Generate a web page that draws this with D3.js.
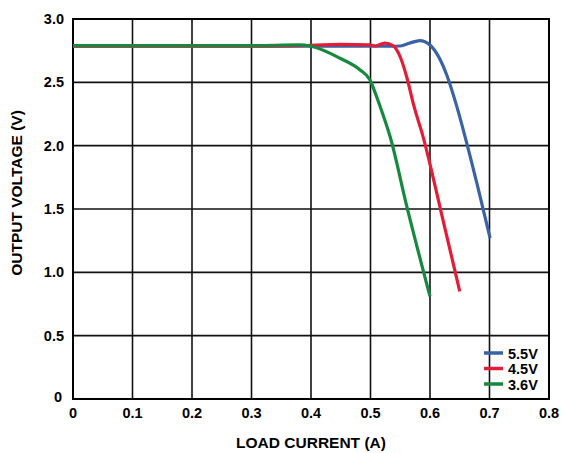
<!DOCTYPE html>
<html><head><meta charset="utf-8">
<script src="https://cdn.jsdelivr.net/npm/d3@7"></script>
<style>body{margin:0;background:#fff;} text{font-family:"Liberation Sans",Arial,sans-serif;font-weight:bold;}</style>
</head><body>
<svg id="c" width="564" height="453"></svg>
<script>
const xTicks = [0,0.1,0.2,0.3,0.4,0.5,0.6,0.7,0.8];
const yTicks = [0,0.5,1.0,1.5,2.0,2.5,3.0];
const seriesNames = ["5.5V","4.5V","3.6V"];
const seriesColors = ["#3a62a6","#e31d37","#17893f"];
const blueI = [0,0.1,0.2,0.3,0.4,0.5,0.53,0.55,0.566,0.583,0.6,0.617,0.628,0.645,0.659,0.68,0.701];
const blueV = [2.785,2.785,2.785,2.785,2.785,2.785,2.785,2.787,2.81,2.83,2.795,2.68,2.56,2.31,2.07,1.68,1.27];
const redI = [0,0.1,0.2,0.3,0.38,0.45,0.499,0.508,0.524,0.538,0.55,0.561,0.572,0.589,0.62,0.65];
const redV = [2.785,2.785,2.785,2.785,2.79,2.8,2.795,2.787,2.81,2.79,2.70,2.54,2.33,2.06,1.45,0.85];
const greenI = [0,0.1,0.2,0.3,0.38,0.4,0.449,0.482,0.499,0.51,0.522,0.533,0.561,0.6];
const greenV = [2.79,2.79,2.79,2.79,2.795,2.785,2.69,2.6,2.52,2.39,2.23,2.07,1.52,0.81];

const svg = d3.select("#c");
const x = d3.scaleLinear().domain([0,0.8]).range([73,549]);
const y = d3.scaleLinear().domain([0,3]).range([399,19]);

// grid
svg.append("g").selectAll("line").data(xTicks).join("line")
  .attr("x1",d=>x(d)).attr("x2",d=>x(d)).attr("y1",y(0)).attr("y2",y(3))
  .attr("stroke","#111").attr("stroke-width",1.6);
svg.append("g").selectAll("line").data(yTicks).join("line")
  .attr("y1",d=>y(d)).attr("y2",d=>y(d)).attr("x1",x(0)).attr("x2",x(0.8))
  .attr("stroke","#111").attr("stroke-width",1.6);
svg.append("rect").attr("x",x(0)).attr("y",y(3)).attr("width",x(0.8)-x(0)).attr("height",y(0)-y(3))
  .attr("fill","none").attr("stroke","#000").attr("stroke-width",2);

// tick labels
svg.append("g").selectAll("text").data(xTicks).join("text")
  .attr("x",d=>x(d)).attr("y",418).attr("text-anchor","middle").attr("font-size",14.5)
  .text(d=>d===0?"0":d3.format(".1f")(d));
svg.append("g").selectAll("text").data(yTicks).join("text")
  .attr("x",d=>d===0?62:64).attr("y",d=>d===0?y(d)+3:y(d)+5).attr("text-anchor","end").attr("font-size",14.5)
  .text(d=>d===0?"0":d3.format(".1f")(d));

svg.append("text").attr("x",311).attr("y",448).attr("text-anchor","middle").attr("font-size",15.5).text("LOAD CURRENT (A)");
svg.append("text").attr("transform","translate(22,193) rotate(-90)").attr("text-anchor","middle").attr("font-size",15.5).text("OUTPUT VOLTAGE (V)");

const line = d3.line().x(d=>x(d[0])).y(d=>y(d[1])).curve(d3.curveMonotoneX);
const data = [blueI.map((v,i)=>[v,blueV[i]]), redI.map((v,i)=>[v,redV[i]]), greenI.map((v,i)=>[v,greenV[i]])];
svg.append("g").selectAll("path").data(data).join("path")
  .attr("d",line).attr("fill","none").attr("stroke",(d,i)=>seriesColors[i]).attr("stroke-width",3.2);

// legend
const lg = svg.append("g").selectAll("g").data(seriesNames).join("g")
  .attr("transform",(d,i)=>`translate(0,${353+i*15.5})`);
lg.append("line").attr("x1",484).attr("x2",503).attr("stroke",(d,i)=>seriesColors[i]).attr("stroke-width",3.5);
lg.append("text").attr("x",508).attr("y",5.5).attr("font-size",14.5).text(d=>d);
</script>
</body></html>
